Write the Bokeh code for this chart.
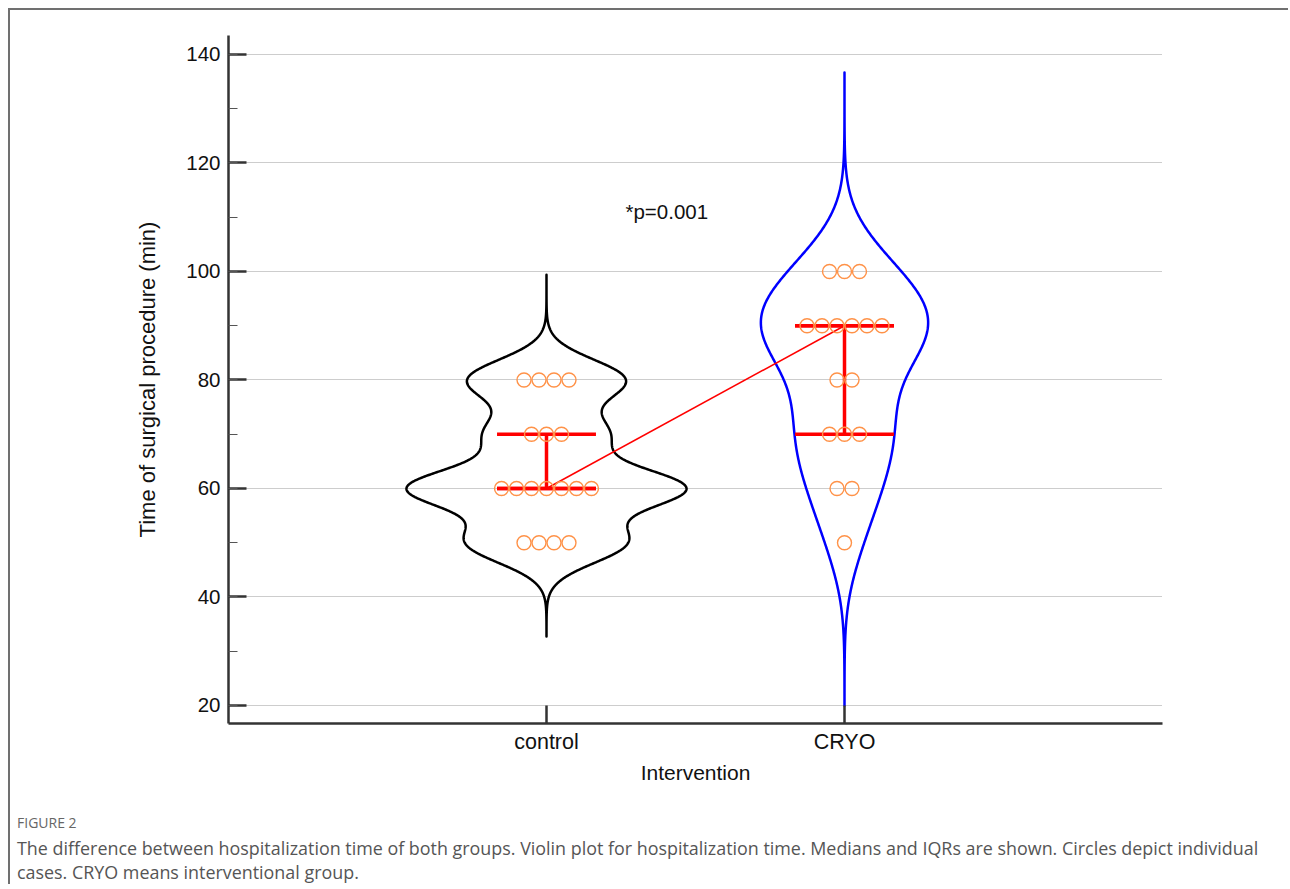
import numpy as np
from bokeh.plotting import figure
from bokeh.layouts import column
from bokeh.models import SingleIntervalTicker, FixedTicker, Range1d, Label, Div
from bokeh.embed import file_html
from bokeh.resources import INLINE

# ---------------- data ----------------
groups = ["control", "CRYO"]
group_pos = [1, 2]
control_values = [50, 60, 70, 80]
control_counts = [4, 7, 3, 4]
cryo_values = [50, 60, 70, 80, 90, 100]
cryo_counts = [1, 2, 3, 2, 6, 3]
control_extent = [32.7, 99.4]   # drawn range of the violin
cryo_extent = [20.0, 136.7]
violin_colors = ["#000000", "#0000ff"]
p_text = "*p=0.001"
x_title = "Intervention"
y_title = "Time of surgical procedure (min)"
caption_head = "FIGURE 2"
caption_lines = [
    "The difference between hospitalization time of both groups. Violin plot for hospitalization time. Medians and IQRs are shown. Circles depict individual",
    "cases. CRYO means interventional group.",
]

# ---------------- helpers ----------------
def expand(values, counts):
    return np.repeat(np.array(values, float), counts)

def silverman_bw(d):
    sd = np.std(d, ddof=1)
    q1, q3 = np.percentile(d, [25, 75])
    a = min(sd, (q3 - q1) / 1.34)
    return 0.9 * a * len(d) ** -0.2

def kde(d, grid):
    h = silverman_bw(d)
    z = (grid[:, None] - d[None, :]) / h
    return np.exp(-0.5 * z ** 2).sum(axis=1) / (len(d) * h * np.sqrt(2 * np.pi))

datasets = [expand(control_values, control_counts), expand(cryo_values, cryo_counts)]
extents = [control_extent, cryo_extent]
grids = [np.linspace(lo, hi, 600) for lo, hi in extents]
dens = [kde(d, g) for d, g in zip(datasets, grids)]
max_half = 0.47
dmax = max(dd.max() for dd in dens)

FONT = "Liberation Sans"
W = 1278

p = figure(width=W, height=790, output_backend="svg", toolbar_location=None,
           x_range=Range1d(-0.0671, 3.0671), y_range=Range1d(16.68, 143.5),
           min_border_left=218, min_border_right=W - 1152, min_border_top=25,
           min_border_bottom=77)
p.outline_line_color = None
p.background_fill_color = "white"
p.border_fill_color = "white"

# axes
for ax in (p.xaxis[0], p.yaxis[0]):
    ax.axis_line_color = "#333333"
    ax.axis_line_width = 2.5
    ax.major_tick_line_color = "#333333"
    ax.major_tick_line_width = 2.5
    ax.major_tick_in = 18
    ax.major_tick_out = 0
    ax.minor_tick_in = 9
    ax.minor_tick_out = 0
    ax.major_label_text_font = FONT
    ax.major_label_text_color = "#111111"
    ax.axis_label_text_font = FONT
    ax.axis_label_text_font_style = "normal"
    ax.axis_label_text_color = "#111111"

p.yaxis.ticker = SingleIntervalTicker(interval=20, num_minor_ticks=2)
p.yaxis.minor_tick_line_color = "#555555"
p.yaxis.minor_tick_line_width = 1
p.yaxis.major_label_text_font_size = "20.5px"
p.yaxis.major_label_standoff = 8
p.yaxis.axis_label = y_title
p.yaxis.axis_label_text_font_size = "22px"
p.yaxis.axis_label_standoff = 23

p.xaxis.ticker = FixedTicker(ticks=group_pos)
p.xaxis.major_label_overrides = {pos: g for pos, g in zip(group_pos, groups)}
p.xaxis.minor_tick_line_color = None
p.xaxis.major_label_text_font_size = "21.5px"
p.xaxis.major_label_standoff = 6
p.xaxis.axis_label = x_title
p.xaxis.axis_label_text_font_size = "21px"
p.xaxis.axis_label_standoff = 4

p.xgrid.grid_line_color = None
p.ygrid.grid_line_color = "#9a9a9a"
p.ygrid.grid_line_width = 1
p.ygrid.grid_line_dash = "1 1"

# violins
for pos, g, dd, col in zip(group_pos, grids, dens, violin_colors):
    w = dd / dmax * max_half
    xs = np.concatenate([pos + w, (pos - w)[::-1]])
    ys = np.concatenate([g, g[::-1]])
    p.patch(xs, ys, fill_alpha=0, line_color=col, line_width=2.5, line_join="round")

# medians & IQR
bar_half = 0.166
medians = []
for pos, d in zip(group_pos, datasets):
    q1, med, q3 = np.percentile(d, [25, 50, 75])
    medians.append(med)
    p.segment(x0=[pos - bar_half] * 3, x1=[pos + bar_half] * 3, y0=[q1, med, q3], y1=[q1, med, q3],
              line_color="#ff0000", line_width=3.5)
    p.segment(x0=[pos], x1=[pos], y0=[q1], y1=[q3], line_color="#ff0000", line_width=3.5)
p.line(group_pos, medians, line_color="#ff0000", line_width=1.5)

# individual cases
dot_step = 0.0503
for pos, vals, cnts in zip(group_pos, [control_values, cryo_values], [control_counts, cryo_counts]):
    xs, ys = [], []
    for v, n in zip(vals, cnts):
        for i in range(n):
            xs.append(pos + (i - (n - 1) / 2) * dot_step)
            ys.append(v)
    p.scatter(xs, ys, marker="circle", size=14, fill_color=None, line_color="#ff9248", line_width=1.4)

# p-value
p.add_layout(Label(x=1.265, y=111, text=p_text, text_font=FONT, text_font_size="20.5px",
                   text_baseline="middle", text_align="left", text_color="#111111"))

# caption
cap_html = (
    '<div style="font-family:\'Open Sans\',sans-serif;margin:0;padding:0 0 0 7px;white-space:nowrap;">'
    f'<div style="font-size:14px;line-height:18px;color:#666666;padding-top:14px;">{caption_head}</div>'
    '<div style="font-size:17.9px;line-height:24px;color:#555555;letter-spacing:0px;margin-top:4px;">'
    + "<br>".join(caption_lines) +
    '</div></div>'
)
cap = Div(text=cap_html, width=W, height=84, margin=0)

layout = column(p, cap, spacing=0)
layout.styles = {"margin-left": "8px", "margin-top": "8px",
                 "border-top": "2px solid #707070", "border-left": "2px solid #707070"}

open("out.html", "w").write(file_html(layout, INLINE))
